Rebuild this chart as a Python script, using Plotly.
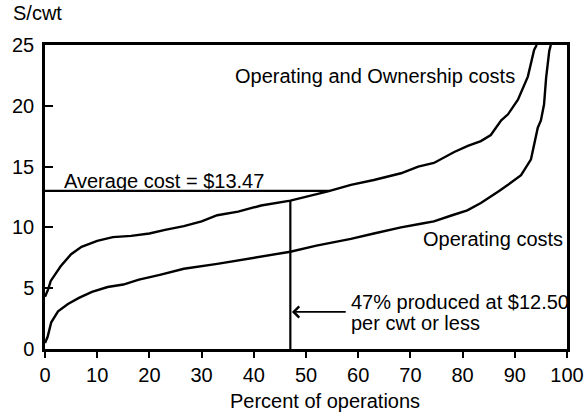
import numpy as np
import plotly.graph_objects as go

# Operating and ownership costs ($/cwt) by percent of operations
own_pct = [0, 0.6, 1.1, 3, 5, 7, 10, 13, 16.5, 20, 23, 26.6, 30, 33, 37, 41.4, 47, 50, 54.2,
           58.6, 63, 68.2, 71.5, 74.5, 78.4, 81, 83.5, 85.4, 87.4, 88.7, 90.6, 92.5, 93.7, 94.2]
own_cost = [4.3, 4.9, 5.6, 6.8, 7.8, 8.4, 8.9, 9.2, 9.3, 9.5, 9.8, 10.1, 10.5, 11.0, 11.3, 11.8, 12.2,
            12.5, 12.96, 13.5, 13.9, 14.45, 15.0, 15.3, 16.2, 16.7, 17.1, 17.6, 18.8, 19.3, 20.5,
            22.4, 24.6, 25.0]

# Operating costs ($/cwt) by percent of operations
op_pct = [0, 0.5, 1.2, 2.5, 4.4, 6.5, 9, 12, 15, 18, 22, 26.6, 33, 41.4, 47, 52, 58.6, 63,
          68.2, 72, 74.5, 78, 80.9, 83.5, 85, 87, 88.7, 91.2, 93.1, 94.4, 95.0, 95.6, 96.0, 96.6, 96.9]
op_cost = [0.5, 1.0, 2.2, 3.1, 3.7, 4.2, 4.7, 5.1, 5.3, 5.7, 6.1, 6.6, 7.0, 7.6, 8.0, 8.5, 9.05, 9.5,
           10.0, 10.3, 10.5, 11.0, 11.4, 12.0, 12.4, 13.0, 13.5, 14.3, 15.6, 18.2, 18.8, 20.1, 22.3,
           24.5, 25.0]

avg_cost_level = 13.0      # level of the "average cost" line as drawn
share_pct = 47             # 47% produced at $12.50 or less
arrow_level = 3.05

x_ticks = [0, 10, 20, 30, 40, 50, 60, 70, 80, 90, 100]
y_ticks = [0, 5, 10, 15, 20, 25]

FONT = "Liberation Sans, Arial, Helvetica, sans-serif"
FS = 20

# where the average line meets the upper curve
avg_end = float(np.interp(avg_cost_level, own_cost, own_pct))
share_top = float(np.interp(share_pct, own_pct, own_cost))

fig = go.Figure()
fig.add_trace(go.Scatter(x=own_pct, y=own_cost, mode="lines",
                         line=dict(color="black", width=2.4), showlegend=False))
fig.add_trace(go.Scatter(x=op_pct, y=op_cost, mode="lines",
                         line=dict(color="black", width=2.4), showlegend=False))
fig.add_trace(go.Scatter(x=[0, avg_end], y=[avg_cost_level, avg_cost_level], mode="lines",
                         line=dict(color="black", width=2.2), showlegend=False))
fig.add_trace(go.Scatter(x=[share_pct, share_pct], y=[0, share_top], mode="lines",
                         line=dict(color="black", width=2.2), showlegend=False))

ann = []
ann.append(dict(x=36.0, y=22.45, xref="x", yref="y", text="Operating and Ownership costs",
                showarrow=False, xanchor="left", yanchor="middle"))
ann.append(dict(x=3.3, y=13.8, xref="x", yref="y", text="Average cost = $13.47",
                showarrow=False, xanchor="left", yanchor="middle"))
ann.append(dict(x=99.6, y=9.05, xref="x", yref="y", text="Operating costs",
                showarrow=False, xanchor="right", yanchor="middle"))
ann.append(dict(x=58.2, y=3.87, xref="x", yref="y", text="47% produced at $12.50",
                showarrow=False, xanchor="left", yanchor="middle"))
ann.append(dict(x=58.2, y=2.14, xref="x", yref="y", text="per cwt or less",
                showarrow=False, xanchor="left", yanchor="middle"))
ann.append(dict(x=share_pct + 0.3, y=arrow_level, ax=57.9, ay=arrow_level, xref="x", yref="y",
                axref="x", ayref="y", text="", showarrow=True, arrowhead=4, arrowsize=1.2,
                arrowwidth=1.8, arrowcolor="black"))
ann.append(dict(x=-0.065, y=1.105, xref="paper", yref="paper", text="S/cwt", showarrow=False,
                xanchor="left", yanchor="middle"))
ann.append(dict(x=0.536, y=-0.17, xref="paper", yref="paper", text="Percent of operations",
                showarrow=False, xanchor="center", yanchor="middle"))
for a in ann:
    a.setdefault("font", dict(family=FONT, size=FS, color="black"))

fig.update_layout(
    width=586, height=416,
    margin=dict(l=45, r=19, t=45, b=67, autoexpand=False),
    paper_bgcolor="white", plot_bgcolor="white",
    font=dict(family=FONT, size=FS, color="black"),
    annotations=ann,
    showlegend=False,
)
fig.update_xaxes(range=[0, 100], tickvals=x_ticks, ticktext=[str(v) for v in x_ticks],
                 showgrid=False, zeroline=False, showline=True, linewidth=2.5, linecolor="black",
                 mirror=True, ticks="outside", ticklen=6, tickwidth=1.5, tickcolor="black",
                 tickfont=dict(family=FONT, size=FS), automargin=False)
fig.update_yaxes(range=[0, 25], tickvals=y_ticks, ticktext=[str(v) for v in y_ticks],
                 showgrid=False, zeroline=False, showline=True, linewidth=2.5, linecolor="black",
                 mirror=True, ticks="inside", ticklen=8, tickwidth=1.5, tickcolor="black",
                 tickfont=dict(family=FONT, size=FS), ticklabelstandoff=4, automargin=False)

# remove the browser's default 8px page margin so the figure sits at the window corner
fig.write_html("out.html", config={"displayModeBar": False},
               post_script="document.body.style.margin='0px';")
